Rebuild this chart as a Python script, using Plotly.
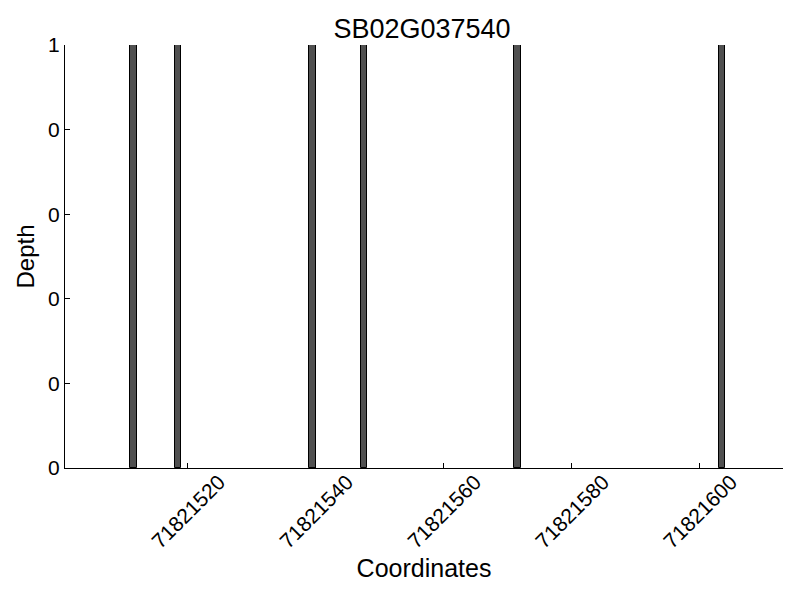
import plotly.graph_objects as go

# Data
positions = [71821511, 71821518, 71821539, 71821547, 71821571, 71821603]
depth = [1, 1, 1, 1, 1, 1]
xtick_vals = [71821520, 71821540, 71821560, 71821580, 71821600]
xtick_text = ["71821520", "71821540", "71821560", "71821580", "71821600"]
ytick_vals = [0, 0.2, 0.4, 0.6, 0.8, 1.0]
ytick_text = ["0", "0", "0", "0", "0", "1"]
title_text = "SB02G037540"

FONT = "Liberation Sans, Arial, Helvetica, sans-serif"

fig = go.Figure()
fig.add_trace(go.Bar(
    x=positions, y=depth, width=1, offset=0,
    marker=dict(color="#505050", line=dict(color="black", width=1)),
    showlegend=False,
))

annotations = []
for v, t in zip(xtick_vals, xtick_text):
    annotations.append(dict(
        x=v, xref="x", y=0, yref="paper", yshift=-43,
        text=t, showarrow=False, textangle=-45,
        xanchor="center", yanchor="middle",
        font=dict(family=FONT, size=21, color="black"),
    ))

fig.update_layout(
    width=792, height=592,
    margin=dict(l=57, r=17, t=37, b=132),
    paper_bgcolor="white", plot_bgcolor="white",
    font=dict(family=FONT, color="black"),
    title=dict(text=title_text, x=0.5227, xanchor="center", y=0.966, yanchor="middle",
               font=dict(family=FONT, size=27, color="black")),
    annotations=annotations,
    bargap=0,
)
fig.update_xaxes(
    range=[71821500.8, 71821613.0],
    tickmode="array", tickvals=xtick_vals, showticklabels=False,
    ticks="inside", ticklen=5, tickcolor="black",
    showline=True, linecolor="black", linewidth=1,
    showgrid=False, zeroline=False,
    title=dict(text="Coordinates", standoff=91, font=dict(family=FONT, size=25, color="black")),
    automargin=False,
)
fig.update_yaxes(
    range=[0, 1],
    tickmode="array", tickvals=ytick_vals, ticktext=ytick_text,
    ticks="inside", ticklen=5, tickcolor="black",
    tickfont=dict(family=FONT, size=21, color="black"),
    ticklabelstandoff=0,
    showline=True, linecolor="black", linewidth=1,
    showgrid=False, zeroline=False,
    title=dict(text="Depth", standoff=6, font=dict(family=FONT, size=24, color="black")),
    automargin=False,
)

fig.write_html("out.html")
